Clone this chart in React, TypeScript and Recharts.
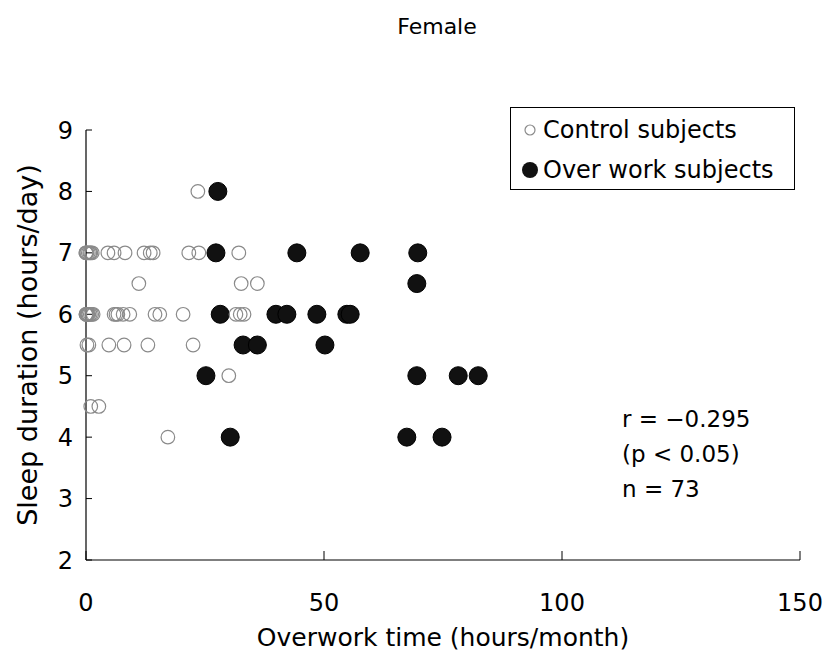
import { ScatterChart, Scatter, XAxis, YAxis, Label } from 'recharts';

// control subjects (open circles)
const controlX = [
  0, 0, 0.2, 0.5, 0.8, 1, 1.3, 4.6, 5.9, 8.2, 12.2, 13.5, 14.1, 21.6, 23.7, 32.1,
  0, 0, 0.2, 0.4, 0.6, 0.9, 1.2, 1.5, 0.3, 5.9, 6.3, 6.7, 7.8, 9.2, 14.5, 15.5, 20.4, 31.5, 32.4, 33.2,
  0.2, 0.6, 4.8, 8, 13, 22.5,
  1, 2.7,
  23.5,
  11.1, 32.6, 36,
  30,
  17.2,
];
const controlY = [
  7, 7, 7, 7, 7, 7, 7, 7, 7, 7, 7, 7, 7, 7, 7, 7,
  6, 6, 6, 6, 6, 6, 6, 6, 6, 6, 6, 6, 6, 6, 6, 6, 6, 6, 6, 6,
  5.5, 5.5, 5.5, 5.5, 5.5, 5.5,
  4.5, 4.5,
  8,
  6.5, 6.5, 6.5,
  5,
  4,
];

// over work subjects (filled circles)
const overworkX = [
  27.7,
  27.3, 44.3, 57.6, 69.7,
  69.5,
  28.2, 39.9, 42.2, 48.5, 54.8, 55.5,
  33, 36, 50.2,
  25.2, 69.5, 78.2, 82.4,
  30.3, 67.4, 74.8,
];
const overworkY = [
  8,
  7, 7, 7, 7,
  6.5,
  6, 6, 6, 6, 6, 6,
  5.5, 5.5, 5.5,
  5, 5, 5, 5,
  4, 4, 4,
];

const xTicks = [0, 50, 100, 150];
const yTicks = [2, 3, 4, 5, 6, 7, 8, 9];
const statLines = ['r = \u22120.295', '(p < 0.05)', 'n = 73'];

const controlData = controlX.map((x, i) => ({ x, y: controlY[i] }));
const overworkData = overworkX.map((x, i) => ({ x, y: overworkY[i] }));

const FONT = '"DejaVu Sans", sans-serif';

const OpenDot = (props: any) => (
  <circle cx={props.cx} cy={props.cy} r={6.8} fill="none" stroke="#8a8a8a" strokeWidth={1.2} />
);
const FilledDot = (props: any) => (
  <circle cx={props.cx} cy={props.cy} r={9} fill="#111" stroke="#000" strokeWidth={1} />
);

export default function App() {
  return (
    <div style={{ position: 'absolute', left: 0, top: 0, width: 827, height: 655, background: '#fff', fontFamily: FONT }}>
      <ScatterChart width={827} height={655} margin={{ top: 130, right: 27, left: 0, bottom: 0 }}>
        <XAxis
          type="number"
          dataKey="x"
          domain={[0, 150]}
          ticks={xTicks}
          height={95}
          tickSize={-9}
          tickMargin={43}
          axisLine={{ stroke: '#000', strokeWidth: 1.2 }}
          tickLine={{ stroke: '#000' }}
          tick={{ fill: '#000', fontSize: 24, fontFamily: FONT }}
        >
          <Label
            content={(p: any) => (
              <text
                x={p.viewBox.x + p.viewBox.width / 2}
                y={646}
                textAnchor="middle"
                fontSize={25}
                fontFamily={FONT}
                fill="#000"
              >
                Overwork time (hours/month)
              </text>
            )}
          />
        </XAxis>
        <YAxis
          type="number"
          dataKey="y"
          domain={[2, 9]}
          ticks={yTicks}
          width={86}
          tickSize={-6}
          tickMargin={19}
          axisLine={{ stroke: '#000', strokeWidth: 1.2 }}
          tickLine={{ stroke: '#000' }}
          tick={{ fill: '#000', fontSize: 24, fontFamily: FONT }}
        >
          <Label
            content={(p: any) => {
              const cy = p.viewBox.y + p.viewBox.height / 2;
              return (
                <text
                  x={37}
                  y={cy}
                  transform={`rotate(-90, 37, ${cy})`}
                  textAnchor="middle"
                  fontSize={27}
                  fontFamily={FONT}
                  fill="#000"
                >
                  Sleep duration (hours/day)
                </text>
              );
            }}
          />
        </YAxis>
        <Scatter name="Over work subjects" data={overworkData} shape={FilledDot} isAnimationActive={false} />
        <Scatter name="Control subjects" data={controlData} shape={OpenDot} isAnimationActive={false} />
      </ScatterChart>

      {/* title */}
      <div style={{ position: 'absolute', top: 14, left: 0, width: 874, textAlign: 'center', fontSize: 22 }}>Female</div>

      {/* legend */}
      <div
        style={{
          position: 'absolute',
          left: 510,
          top: 107,
          width: 285,
          height: 83,
          border: '1px solid #000',
          fontSize: 24,
          lineHeight: '40px',
          boxSizing: 'border-box',
          paddingTop: 2,
        }}
      >
        <div style={{ display: 'flex', alignItems: 'center' }}>
          <svg width={32} height={20}>
            <circle cx={19} cy={10} r={5} fill="none" stroke="#8a8a8a" strokeWidth={1.2} />
          </svg>
          <span>Control subjects</span>
        </div>
        <div style={{ display: 'flex', alignItems: 'center' }}>
          <svg width={32} height={20}>
            <circle cx={19} cy={10} r={8} fill="#111" />
          </svg>
          <span>Over work subjects</span>
        </div>
      </div>

      {/* correlation */}
      <div style={{ position: 'absolute', left: 622, top: 402, fontSize: 23, lineHeight: '35px' }}>
        {statLines.map((s) => (
          <div key={s}>{s}</div>
        ))}
      </div>
    </div>
  );
}
